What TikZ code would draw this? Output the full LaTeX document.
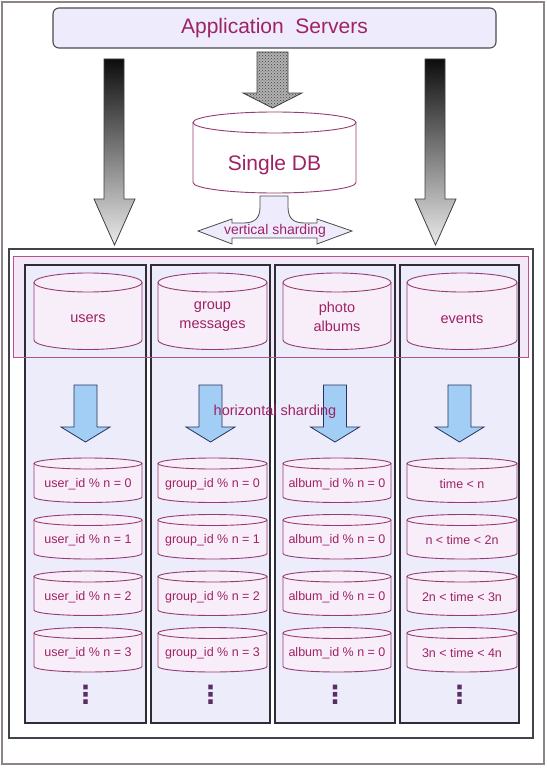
\documentclass[tikz,border=0pt]{standalone}
\usepackage{fontspec}
\setmainfont{Liberation Sans}
\newfontfamily\dejavu{DejaVu Sans}
\usetikzlibrary{patterns}
\definecolor{txt}{RGB}{158,34,100}
\definecolor{cylln}{RGB}{150,60,112}
\definecolor{cylfillA}{RGB}{248,238,250}
\definecolor{lav}{RGB}{236,236,250}
\definecolor{appfill}{RGB}{238,236,252}
\definecolor{bandln}{RGB}{185,80,140}
\definecolor{bandfill}{RGB}{243,232,247}
\definecolor{bluefill}{RGB}{162,206,246}
\definecolor{blueln}{RGB}{40,50,90}
\definecolor{colln}{RGB}{45,45,55}
\definecolor{outerln}{RGB}{140,132,136}
\definecolor{dotc}{RGB}{90,45,100}
\newcommand\dbcyl[9]{%
  \fill[#8] ({#2-#4},#3) -- ({#2-#4},{#3+#5}) .. controls ({#2-#4},{#3+#5+0.5523*#6}) and ({#2-0.5523*#4},{#3+#5+#6}) .. (#2,{#3+#5+#6}) .. controls ({#2+0.5523*#4},{#3+#5+#6}) and ({#2+#4},{#3+#5+0.5523*#6}) .. ({#2+#4},{#3+#5}) -- ({#2+#4},#3) -- cycle;
  \draw[cylline] ({#2-#4},#3) -- ({#2-#4},{#3+#5}) .. controls ({#2-#4},{#3+#5+0.5523*#6}) and ({#2-0.5523*#4},{#3+#5+#6}) .. (#2,{#3+#5+#6}) .. controls ({#2+0.5523*#4},{#3+#5+#6}) and ({#2+#4},{#3+#5+0.5523*#6}) .. ({#2+#4},{#3+#5}) -- ({#2+#4},#3);
  \filldraw[#8,cylline] (#2,#3) ellipse [x radius=#4, y radius=#6];
  \node[#8lbl] (#1) at (#2,#7) {#9};
}
\begin{document}
\begin{tikzpicture}[x=1pt,y=-1pt,
  cylline/.style={draw=cylln,line width=0.9pt},
  cylS/.style={fill=white},
  cylSlbl/.style={text=txt,font=\fontsize{21}{25}\selectfont,inner sep=0pt},
  cylT/.style={fill=cylfillA},
  cylTlbl/.style={text=txt,font=\fontsize{14.5}{19}\selectfont,align=center,inner sep=0pt},
  cylB/.style={fill=cylfillA},
  cylBlbl/.style={text=txt,font=\fontsize{12.5}{15}\selectfont,inner sep=0pt},
  appbox/.style={draw=black!70,line width=1.1pt,fill=appfill,rounded corners=6pt,
    minimum width=443pt,minimum height=40pt,text=txt,font=\fontsize{21}{25}\selectfont},
  graybig/.style={draw=black!75,line width=0.8pt,top color=black!95,bottom color=black!8},
  bluearr/.style={draw=blueln,line width=0.8pt,fill=bluefill},
  colbox/.style={draw=colln,line width=1.1pt,fill=lav},
  lbl/.style={text=txt,inner sep=0pt},
  dotsty/.style={text=dotc,font=\dejavu\bfseries\fontsize{25}{25}\selectfont,inner sep=0pt}
]
\useasboundingbox (0,0) rectangle (546,768);
\fill[white] (0,0) rectangle (546,768);
% outer frame
\draw[outerln,line width=1.6pt] (2,2) rectangle (544,764);
% application servers
\node[appbox] (app) at (274.5,28) {Application\ \ Servers};
% big gradient arrows
\path[graybig] (104,59) -- (124,59) -- (124,199) -- (135,199) -- (114.5,245) -- (94,199) -- (104,199) -- cycle;
\path[graybig] (425,59) -- (445,59) -- (445,199) -- (456,199) -- (435.5,245) -- (415,199) -- (425,199) -- cycle;
% middle patterned arrow
\fill[black!30] (257,52) -- (288,52) -- (288,93) -- (302,93) -- (272.5,108) -- (243,93) -- (257,93) -- cycle;
\fill[pattern=crosshatch dots,pattern color=black!75] (257,52) -- (288,52) -- (288,93) -- (302,93) -- (272.5,108) -- (243,93) -- (257,93) -- cycle;
\draw[black!75,line width=0.8pt] (257,52) -- (288,52) -- (288,93) -- (302,93) -- (272.5,108) -- (243,93) -- (257,93) -- cycle;
% single DB
\dbcyl{db}{274.5}{122.5}{81.5}{60}{10.5}{165}{cylS}{Single DB}
% vertical sharding arrow
\filldraw[fill=appfill,draw=black!70,line width=0.8pt]
  (260,196) -- (288,196) -- (288,207) .. controls (288,219) and (294,223) .. (305,223) -- (317,223) -- (317,219) -- (352,231) -- (317,244) -- (317,238) -- (232,238) -- (232,244) -- (198,231) -- (232,219) -- (232,223) -- (243,223) .. controls (254,223) and (260,219) .. (260,207) -- cycle;
\node[lbl,font=\fontsize{14}{16}\selectfont] (vs) at (275,231) {vertical sharding};
% inner box
\draw[colln!90,line width=1.1pt,fill=white] (9,249) rectangle (533,738);
% band
\fill[bandfill] (13,256) rectangle (528,357);
% columns
\path[colbox] (25,265) rectangle (146,723);
\path[colbox] (151,265) rectangle (270,723);
\path[colbox] (275,265) rectangle (395,723);
\path[colbox] (400,265) rectangle (519,723);
\draw[bandln,line width=1pt] (13,256) rectangle (528,357);
% top cylinders
\dbcyl{t1}{88}{282.5}{54}{57.5}{9.5}{319}{cylT}{users}
\dbcyl{t2}{212.5}{282.5}{54.5}{57.5}{9.5}{316.5}{cylT}{group\\messages}
\dbcyl{t3}{337}{282.5}{54}{57.5}{9.5}{316.5}{cylT}{photo\\albums}
\dbcyl{t4}{462}{282.5}{55}{57.5}{9.5}{319}{cylT}{events}
% blue arrows
\foreach \cx in {85.5,210.5,335,459.5}{
  \path[bluearr] ({\cx-11.5},385) -- ({\cx+11.5},385) -- ({\cx+11.5},427) -- ({\cx+24.5},427) -- (\cx,442) -- ({\cx-24.5},427) -- ({\cx-11.5},427) -- cycle;
}
\node[lbl,font=\fontsize{14.5}{16}\selectfont] (hs) at (275,412) {horizontal sharding};
% shard cylinders
\dbcyl{u0}{88}{463.5}{54}{33.5}{5.5}{484}{cylB}{user\_id \% n = 0}
\dbcyl{u1}{88}{520}{54}{33.5}{5.5}{540.5}{cylB}{user\_id \% n = 1}
\dbcyl{u2}{88}{576.5}{54}{33.5}{5.5}{597}{cylB}{user\_id \% n = 2}
\dbcyl{u3}{88}{633}{54}{33.5}{5.5}{653.5}{cylB}{user\_id \% n = 3}
\dbcyl{g0}{212.5}{463.5}{54.5}{33.5}{5.5}{484}{cylB}{group\_id \% n = 0}
\dbcyl{g1}{212.5}{520}{54.5}{33.5}{5.5}{540.5}{cylB}{group\_id \% n = 1}
\dbcyl{g2}{212.5}{576.5}{54.5}{33.5}{5.5}{597}{cylB}{group\_id \% n = 2}
\dbcyl{g3}{212.5}{633}{54.5}{33.5}{5.5}{653.5}{cylB}{group\_id \% n = 3}
\dbcyl{a0}{337}{463.5}{54}{33.5}{5.5}{484}{cylB}{album\_id \% n = 0}
\dbcyl{a1}{337}{520}{54}{33.5}{5.5}{540.5}{cylB}{album\_id \% n = 0}
\dbcyl{a2}{337}{576.5}{54}{33.5}{5.5}{597}{cylB}{album\_id \% n = 0}
\dbcyl{a3}{337}{633}{54}{33.5}{5.5}{653.5}{cylB}{album\_id \% n = 0}
\dbcyl{e0}{462}{463.5}{55}{33.5}{5.5}{484}{cylB}{time < n}
\dbcyl{e1}{462}{520}{55}{33.5}{5.5}{540.5}{cylB}{n < time < 2n}
\dbcyl{e2}{462}{576.5}{55}{33.5}{5.5}{597}{cylB}{2n < time < 3n}
\dbcyl{e3}{462}{633}{55}{33.5}{5.5}{653.5}{cylB}{3n < time < 4n}
% vertical dots
\foreach \cx/\nm in {85.5/d1,210.5/d2,335/d3,459.5/d4}{
  \node[dotsty] (\nm) at (\cx,695) {⋮};
}
\end{tikzpicture}
\end{document}
